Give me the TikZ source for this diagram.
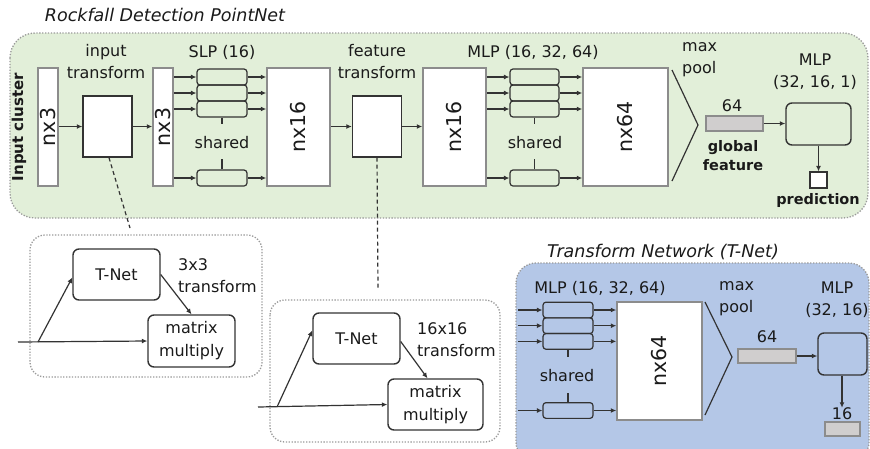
\documentclass[tikz,border=0pt]{standalone}
\usepackage{fontspec}
\setmainfont{DejaVu Sans}
\usetikzlibrary{arrows.meta,calc}
\definecolor{gfill}{HTML}{E2EFD9}
\definecolor{bfill}{HTML}{B4C7E7}
\definecolor{dotc}{HTML}{9A9A9A}
\definecolor{edgec}{HTML}{333333}
\definecolor{nxedge}{HTML}{8C8C8C}
\definecolor{barfill}{HTML}{D0CECE}
\definecolor{txtc}{HTML}{1A1A1A}
\tikzset{
  fs/.style={font=\fontsize{16}{22}\selectfont, inner sep=0pt, text=txtc},
  fsb/.style={font=\bfseries\fontsize{14.5}{19}\selectfont, inner sep=0pt, text=txtc},
  ttl/.style={font=\itshape\fontsize{17.5}{21}\selectfont, inner sep=0pt, text=txtc},
  group/.style={draw=dotc, line width=1.3pt, dash pattern=on 1.3pt off 1.6pt, rounded corners=#1},
  nxbox/.style={draw=nxedge, fill=white, line width=1.5pt, inner sep=0pt},
  nxtxt/.style={rotate=90, font=\fontsize{20.5}{24}\selectfont, inner sep=0pt, text=txtc},
  tbox/.style={draw=edgec, fill=white, line width=1.4pt, inner sep=0pt},
  rbox/.style={draw=edgec, line width=1.4pt, rounded corners=6pt, inner sep=0pt, align=center, font=\fontsize{16}{23}\selectfont, text=txtc},
  sbox/.style={draw=edgec, line width=1.2pt, rounded corners=3pt, inner sep=0pt, minimum height=16pt},
  gbar/.style={draw=nxedge, fill=barfill, line width=1.2pt, inner sep=0pt},
  arr/.style={draw=edgec, line width=1.2pt, -{Latex[length=5.5pt,width=5pt]}},
  ln/.style={draw=edgec, line width=1.2pt},
  tick/.style={draw=edgec, line width=1.8pt},
}
\begin{document}
\begin{tikzpicture}[x=1pt,y=-1pt]
\clip (0,0) rectangle (870,448);
\fill[white] (0,0) rectangle (870,448);

% ---------- main PointNet group ----------
\filldraw[group=25pt, fill=gfill] (10,33) rectangle (868,218);
\node[ttl] (title1) at (165,15) {Rockfall Detection PointNet};
\node[fsb, rotate=90, font=\bfseries\fontsize{15}{18}\selectfont] (incl) at (19,127) {Input cluster};

\node[nxbox, minimum width=20pt, minimum height=118pt] (nx3a) at (48,127) {};
\node[nxtxt] (nx3aL) at (nx3a) {nx3};

\node[fs, align=center] (itfL) at (106,62) {input\\transform};
\node[tbox, minimum width=49pt, minimum height=61pt] (itf) at (107.5,126.5) {};

\node[nxbox, minimum width=20pt, minimum height=118pt] (nx3b) at (163,127) {};
\node[nxtxt] (nx3bL) at (nx3b) {nx3};

\node[fs] (slpL) at (222,52) {SLP (16)};
\node[sbox, minimum width=50pt] (slp1) at (222,77) {};
\node[sbox, minimum width=50pt] (slp2) at (222,93) {};
\node[sbox, minimum width=50pt] (slp3) at (222,109) {};
\node[sbox, minimum width=50pt] (slp4) at (222,178) {};
\node[fs] (sh1) at (222,143) {shared};
\draw[tick] (slp3.south) -- ++(0,6);
\draw[tick] (slp4.north) -- ++(0,-10);

\node[nxbox, minimum width=63pt, minimum height=118pt] (nx16a) at (298.5,127) {};
\node[nxtxt] (nx16aL) at (nx16a) {nx16};

\node[fs, align=center] (ftfL) at (377,62) {feature\\transform};
\node[tbox, minimum width=49pt, minimum height=61pt] (ftf) at (377,126.5) {};

\node[nxbox, minimum width=63pt, minimum height=118pt] (nx16b) at (454.5,127) {};
\node[nxtxt] (nx16bL) at (nx16b) {nx16};

\node[fs] (mlpL) at (533,52) {MLP (16, 32, 64)};
\node[sbox, minimum width=49pt] (mlp1) at (534.5,77) {};
\node[sbox, minimum width=49pt] (mlp2) at (534.5,93) {};
\node[sbox, minimum width=49pt] (mlp3) at (534.5,109) {};
\node[sbox, minimum width=49pt] (mlp4) at (534.5,178) {};
\node[fs] (sh2) at (535,143) {shared};
\draw[tick] (mlp3.south) -- ++(0,6);
\draw[tick] (mlp4.north) -- ++(0,-10);

\node[nxbox, minimum width=85pt, minimum height=118pt] (nx64) at (625.5,127) {};
\node[nxtxt] (nx64L) at (nx64) {nx64};

\coordinate (mp1a) at (672,70);
\coordinate (mp1b) at (698,125);
\coordinate (mp1c) at (672,181);
\draw[ln] (mp1a) -- (mp1b) -- (mp1c);
\node[fs, align=left, anchor=west] (mpL1) at (682,60) {max\\pool};

\node[gbar, minimum width=57pt, minimum height=15pt] (gf) at (734.5,123.5) {};
\node[fs] (gf64) at (732,106) {64};
\node[fsb, align=center] (gfL) at (733,156) {global\\feature};

\node[fs, align=center] (mlpHL) at (815,72) {MLP\\(32, 16, 1)};
\node[rbox, minimum width=65pt, minimum height=42pt] (mlpH) at (818.5,124) {};
\node[tbox, minimum width=17pt, minimum height=16pt, line width=1.2pt] (pred) at (818.5,180) {};
\node[fsb] (predL) at (818,200) {prediction};

% connectors in main group
\draw[arr] (nx3a.east |- itf) -- (itf.west);
\draw[arr] (itf.east) -- (nx3b.west |- itf);
\foreach \s in {slp1,slp2,slp3,slp4}{
  \draw[arr] (nx3b.east |- \s) -- (\s.west);
  \draw[arr] (\s.east) -- (nx16a.west |- \s);
}
\draw[arr] (nx16a.east |- ftf) -- (ftf.west);
\draw[arr] (ftf.east) -- (nx16b.west |- ftf);
\foreach \s in {mlp1,mlp2,mlp3,mlp4}{
  \draw[arr] (nx16b.east |- \s) -- (\s.west);
  \draw[arr] (\s.east) -- (nx64.west |- \s);
}
\draw[arr] (gf.east) -- (mlpH.west |- gf);
\draw[arr] (mlpH.south -| pred) -- (pred.north);

% dashed links
\coordinate (d1) at (130,228);
\coordinate (d2) at (378,290);
\draw[ln, dash pattern=on 4pt off 3pt] ($(itf.south)+(1.5,0)$) -- (d1);
\draw[ln, dash pattern=on 4pt off 3pt] (ftf.south) -- (d2);

% ---------- input transform detail ----------
\draw[group=15pt] (30,235) rectangle (262,377);
\node[rbox, minimum width=87pt, minimum height=51pt] (tn1) at (116.5,274.5) {T-Net};
\node[rbox, minimum width=87pt, minimum height=52pt] (mm1) at (191.5,341) {matrix\\multiply};
\node[fs, align=left, anchor=west] (tr1) at (178,276) {3x3\\transform};
\coordinate (in1) at (18,342);
\coordinate (br1) at (38,342);
\draw[arr] (in1) -- (mm1.west);
\draw[arr] (br1) -- ($(tn1.west)+(0,3)$);
\draw[arr] (tn1.east) -- (mm1.north);

% ---------- feature transform detail ----------
\draw[group=15pt] (270,300) rectangle (500,442);
\node[rbox, minimum width=87pt, minimum height=51pt] (tn2) at (356.5,338.5) {T-Net};
\node[rbox, minimum width=95pt, minimum height=51pt] (mm2) at (435.5,404.5) {matrix\\multiply};
\node[fs, align=left, anchor=west] (tr2) at (417,339.5) {16x16\\transform};
\coordinate (in2) at (258,407);
\coordinate (br2) at (277,407);
\draw[arr] (in2) -- (mm2.west);
\draw[arr] (br2) -- ($(tn2.west)+(0,-8)$);
\draw[arr] ($(tn2.east)+(0,3)$) -- ($(mm2.north)+(-8,0)$);

% ---------- T-Net detail ----------
\node[ttl] (title2) at (663,252) {Transform Network (T-Net)};
\filldraw[group=20pt, fill=bfill] (516,263) rectangle (869,462);
\node[fs] (tmlpL) at (600,288) {MLP (16, 32, 64)};
\node[sbox, minimum width=50pt, minimum height=15.7pt] (tm1) at (568,310) {};
\node[sbox, minimum width=50pt, minimum height=15.7pt] (tm2) at (568,325.7) {};
\node[sbox, minimum width=50pt, minimum height=15.7pt] (tm3) at (568,341.4) {};
\node[sbox, minimum width=50pt, minimum height=15.7pt] (tm4) at (568,410.5) {};
\node[fs] (sh3) at (567,376) {shared};
\draw[tick] (tm3.south) -- ++(0,7);
\draw[tick] (tm4.north) -- ++(0,-9);
\node[nxbox, minimum width=85pt, minimum height=118pt] (tnx64) at (659.5,361) {};
\node[nxtxt] (tnx64L) at (tnx64) {nx64};
\coordinate (tleft) at (518,0);
\foreach \s in {tm1,tm2,tm3,tm4}{
  \draw[arr] (tleft |- \s) -- (\s.west);
  \draw[arr] (\s.east) -- (tnx64.west |- \s);
}
\coordinate (mp2a) at (705,302);
\coordinate (mp2b) at (732,357);
\coordinate (mp2c) at (705,415);
\draw[ln] (mp2a) -- (mp2b) -- (mp2c);
\node[fs, align=left, anchor=west] (mpL2) at (719,299) {max\\pool};
\node[gbar, minimum width=58pt, minimum height=14pt] (tbar) at (767,356) {};
\node[fs] (t64) at (767,337) {64};
\node[fs, align=center] (tmlpHL) at (837,300) {MLP\\(32, 16)};
\node[rbox, minimum width=49pt, minimum height=42pt] (tmlpH) at (842.5,354) {};
\draw[arr] (tbar.east) -- (tmlpH.west |- tbar);
\node[fs] (t16) at (842,414) {16};
\node[gbar, minimum width=35pt, minimum height=14pt] (tout) at (842.5,429) {};
\draw[arr] (tmlpH.south -| t16) -- (t16.north);
\end{tikzpicture}
\end{document}
